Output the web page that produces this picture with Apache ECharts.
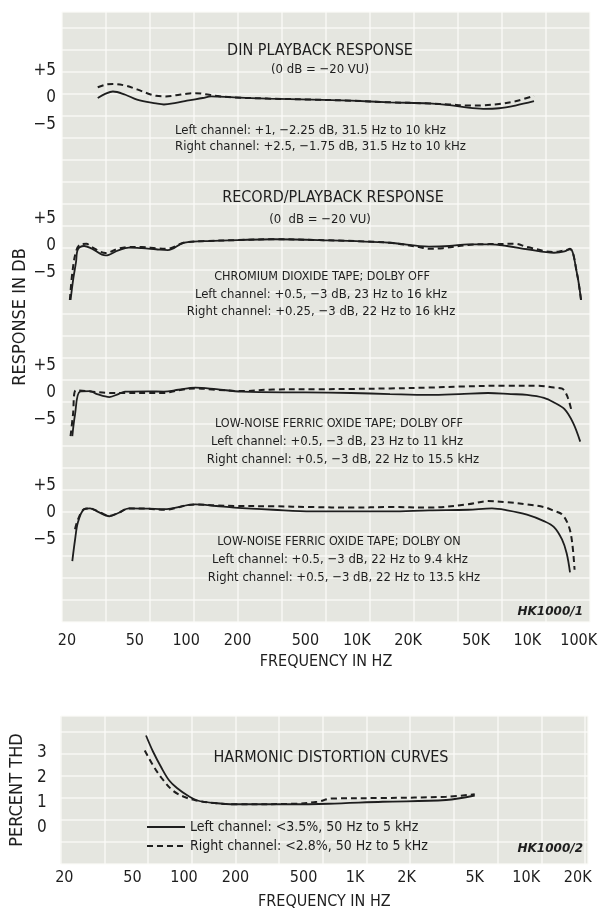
<!DOCTYPE html>
<html><head><meta charset="utf-8">
<script src="https://cdn.jsdelivr.net/npm/echarts@6/dist/echarts.min.js"></script>
<style>html,body{margin:0;padding:0;background:#fff}#c{width:606px;height:914px}</style>
</head><body><div id="c"></div>
<script>
const FONT = '"Liberation Sans Narrow","DejaVu Sans Condensed","Roboto",sans-serif';
const INK = '#1e1e1e';

// ---- tick labels ----
const respTickFreqs = [20, 50, 100, 200, 500, 1000, 2000, 5000, 10000, 20000];
const respTickLabels = ['20', '50', '100', '200', '500', '10K', '20K', '50K', '10K', '100K'];
const thdTickFreqs = [20, 50, 100, 200, 500, 1000, 2000, 5000, 10000, 20000];
const thdTickLabels = ['20', '50', '100', '200', '500', '1K', '2K', '5K', '10K', '20K'];
const dbTicks = [-5, 0, 5];
const dbTickLabels = ['−5', '0', '+5'];
const thdTicks = [0, 1, 2, 3];

// ---- DIN playback response [Hz, dB] ----
const dinLeft = [[30.3,0.0],[33.7,0.8],[37.2,1.2],[44,0.6],[51.5,-0.3],[66.5,-1.0],[74,-1.2],[87,-0.9],[101,-0.5],[125,0.0],[140,0.3],[191,0.1],[300,-0.1],[546,-0.3],[925,-0.5],[1565,-0.8],[2650,-1.0],[3500,-1.3],[4485,-1.8],[5500,-2.0],[6815,-1.9],[8500,-1.4],[10930,-0.6]];
const dinRight = [[30.3,2.0],[34,2.5],[37.2,2.6],[44,2.3],[51.5,1.6],[60,0.8],[66.5,0.4],[76,0.3],[87,0.5],[101,0.8],[113,0.9],[130,0.7],[150,0.4],[191,0.1],[300,-0.1],[546,-0.3],[925,-0.5],[1565,-0.8],[2650,-1.0],[3500,-1.2],[4485,-1.4],[5500,-1.35],[6815,-1.1],[8500,-0.6],[10930,0.4]];

// ---- Chromium dioxide, Dolby off ----
const crLeft = [[21.0,-10],[21.8,-6],[22.6,-3],[23.2,-0.6],[25.2,0.0],[28,-0.5],[33.7,-1.75],[40,-0.8],[46.2,-0.3],[55,-0.4],[66.5,-0.6],[78,-0.75],[96.4,0.6],[125,0.9],[200,1.1],[323,1.25],[600,1.1],[1565,0.6],[2650,-0.1],[3500,0.0],[4485,0.3],[6000,0.3],[7595,0.0],[10000,-0.6],[14320,-1.25],[16500,-1.0],[17770,-0.5],[19500,-5],[20620,-10]];
const crRight = [[20.8,-10],[21.5,-5],[22.6,-1],[24,0.3],[26,0.4],[28,-0.2],[33.7,-1.3],[40,-0.5],[46.2,-0.2],[55,-0.2],[66.5,-0.4],[78,-0.5],[96.4,0.6],[125,0.9],[200,1.1],[323,1.25],[600,1.1],[1565,0.6],[2300,-0.2],[2650,-0.5],[3200,-0.4],[4485,0.2],[6000,0.35],[8500,0.4],[10000,-0.2],[14320,-1.1],[16000,-0.9],[17770,-0.6],[19500,-5],[20620,-10]];

// ---- Low-noise ferric oxide, Dolby off ----
const fdLeft = [[21.5,-8],[22.3,-4],[23.8,0.25],[27.3,0.35],[30,-0.2],[35.5,-0.75],[40,-0.2],[43.8,0.25],[60,0.3],[74,0.25],[90,0.6],[113,1.0],[150,0.7],[212,0.25],[500,0.1],[925,0.0],[1565,-0.2],[2650,-0.35],[4000,-0.2],[5875,0.0],[8000,-0.2],[9945,-0.35],[12500,-0.9],[14320,-1.75],[16500,-3],[18500,-5.5],[20400,-9]];
const fdRight = [[21,-8],[21.7,-4],[22.6,0.5],[27.3,0.3],[35.5,0.0],[43.8,0.0],[60,0.0],[74,0.0],[90,0.5],[113,0.85],[150,0.6],[212,0.35],[323,0.65],[600,0.7],[925,0.75],[1565,0.85],[2650,1.0],[4000,1.2],[7595,1.35],[11540,1.35],[14320,1.0],[16000,0.8],[17200,-0.75],[18200,-3.5]];

// ---- Low-noise ferric oxide, Dolby on ----
const fnLeft = [[21.5,-8.9],[22.3,-5],[23.2,-1.7],[25.2,0.7],[27.3,0.85],[30,0.3],[35.5,-0.6],[40,0.0],[46.2,0.85],[60,0.8],[74,0.7],[113,1.6],[150,1.3],[191,1.0],[323,0.6],[546,0.3],[1565,0.3],[2650,0.5],[4485,0.6],[6200,0.85],[7595,0.5],[9945,-0.3],[12500,-1.5],[14320,-2.6],[15950,-4.9],[17000,-7.5],[17770,-11]];
const fnRight = [[22.3,-3],[23.2,-1.2],[25.2,0.7],[27.3,0.85],[30,0.4],[35.5,-0.5],[40,0.0],[46.2,0.85],[60,0.8],[74,0.6],[113,1.6],[150,1.4],[191,1.3],[323,1.25],[546,1.1],[925,1.0],[1565,1.1],[2650,1.0],[4485,1.6],[5875,2.2],[7595,2.0],[9945,1.6],[12500,1.1],[14320,0.4],[16000,-0.3],[17500,-2.5],[18300,-5.5],[18900,-10.5]];

// ---- Harmonic distortion [Hz, %] ----
const thdLeft = [[60,3.7],[66,3.05],[74,2.4],[82,1.9],[91,1.6],[105,1.3],[120,1.1],[150,1.0],[200,0.95],[400,0.95],[700,0.97],[1450,1.05],[3400,1.12],[5000,1.3]];
const thdRight = [[59,3.1],[66,2.5],[74,2.0],[86,1.5],[100,1.25],[118,1.1],[150,1.0],[200,0.95],[450,0.97],[600,1.05],[737,1.18],[1450,1.2],[3400,1.25],[5000,1.35]];

const thdLeftName = 'Left channel: <3.5%, 50 Hz to 5 kHz';
const thdRightName = 'Right channel: <2.8%, 50 Hz to 5 kHz';

const toPts = a => a.map(([f, v]) => [Math.log10(f), v]);
const lab = (freqs, labels) => v => {
  const i = freqs.findIndex(f => Math.abs(Math.log10(f) - v) < 1e-6);
  return i >= 0 ? labels[i] : '';
};

const PANEL_BG = '#e5e6e0';
const GRIDLINE = { show: true, lineStyle: { color: '#fbfbf8', width: 2, opacity: 0.6 } };
const RESP_MIN = 1.2720, RESP_MAX = 4.3669;
const THD_MIN = 1.2792, THD_MAX = 4.3610;
const zeroY = [98, 246, 393, 513];
const PXDB = 5.4, DBTOP = 8, DBBOT = -15;
const THD_TOP = 716, THD_H = 148, THD_MINV = -1.44, THD_MAXV = 4.48;

const grids = [
  { left: 62, top: 12, width: 528, height: 610, show: true, backgroundColor: PANEL_BG, borderWidth: 0 }
];
zeroY.forEach(z => grids.push({ left: 62, width: 528, top: z - DBTOP * PXDB, height: (DBTOP - DBBOT) * PXDB, show: false }));
grids.push({ left: 57, top: THD_TOP, width: 531, height: THD_H, show: true, backgroundColor: PANEL_BG, borderWidth: 0 });

const hidden = { axisLine: { show: false }, axisTick: { show: false }, axisLabel: { show: false }, splitLine: { show: false } };

const xAxes = [
  Object.assign({ type: 'value', gridIndex: 0, min: 0, max: 528, interval: 44, position: 'top' }, hidden, { splitLine: GRIDLINE }),
  Object.assign({ type: 'value', gridIndex: 0, min: RESP_MIN, max: RESP_MAX, position: 'bottom',
    name: 'FREQUENCY IN HZ', nameLocation: 'middle', nameGap: 32,
    nameTextStyle: { fontFamily: FONT, fontSize: 16, color: INK } }, hidden,
    { axisLabel: { show: true, customValues: respTickFreqs.map(Math.log10), formatter: lab(respTickFreqs, respTickLabels),
      margin: 11, fontFamily: FONT, fontSize: 16, color: INK } }),
];
zeroY.forEach((z, i) => xAxes.push(Object.assign({ type: 'value', gridIndex: i + 1, min: RESP_MIN, max: RESP_MAX }, hidden)));
xAxes.push(Object.assign({ type: 'value', gridIndex: 5, min: THD_MIN, max: THD_MAX, position: 'bottom',
  name: 'FREQUENCY IN HZ', nameLocation: 'middle', nameGap: 30,
  nameTextStyle: { fontFamily: FONT, fontSize: 16, color: INK } }, hidden,
  { axisLabel: { show: true, customValues: thdTickFreqs.map(Math.log10), formatter: lab(thdTickFreqs, thdTickLabels),
    margin: 6, fontFamily: FONT, fontSize: 16, color: INK } }));
xAxes.push(Object.assign({ type: 'value', gridIndex: 5, min: 0, max: 531, interval: 44, position: 'top' }, hidden, { splitLine: GRIDLINE }));

const yAxes = [
  Object.assign({ type: 'value', gridIndex: 0, min: 0, max: 610, interval: 22,
    name: 'RESPONSE IN DB', nameLocation: 'middle', nameGap: 33,
    nameTextStyle: { fontFamily: FONT, fontSize: 18, color: INK } }, hidden, { splitLine: GRIDLINE }),
];
zeroY.forEach((z, i) => yAxes.push(Object.assign({ type: 'value', gridIndex: i + 1, min: DBBOT, max: DBTOP }, hidden,
  { axisLabel: { show: true, customValues: dbTicks, formatter: v => dbTickLabels[dbTicks.indexOf(v)],
    margin: 6, fontFamily: FONT, fontSize: 17, color: INK } })));
yAxes.push(Object.assign({ type: 'value', gridIndex: 5, min: THD_MINV, max: THD_MAXV,
  name: 'PERCENT THD', nameLocation: 'middle', nameGap: 27,
  nameTextStyle: { fontFamily: FONT, fontSize: 18, color: INK } }, hidden,
  { axisLabel: { show: true, customValues: thdTicks, formatter: v => String(v),
    margin: 14, fontFamily: FONT, fontSize: 17, color: INK } }));
yAxes.push(Object.assign({ type: 'value', gridIndex: 5, min: 0, max: THD_H, interval: 22, position: 'right' }, hidden, { splitLine: GRIDLINE }));

const mk = (name, data, xi, yi, dashed) => ({
  name, type: 'line', xAxisIndex: xi, yAxisIndex: yi, data: toPts(data),
  smooth: 0.35, symbol: 'none', silent: true, clip: false,
  itemStyle: { color: INK },
  lineStyle: { color: INK, width: dashed ? 2 : 1.8, type: dashed ? [6, 4] : 'solid' },
  z: dashed ? 3 : 4
});

const series = [
  mk('DIN left', dinLeft, 2, 1, false), mk('DIN right', dinRight, 2, 1, true),
  mk('CrO2 left', crLeft, 3, 2, false), mk('CrO2 right', crRight, 3, 2, true),
  mk('Fe off left', fdLeft, 4, 3, false), mk('Fe off right', fdRight, 4, 3, true),
  mk('Fe on left', fnLeft, 5, 4, false), mk('Fe on right', fnRight, 5, 4, true),
  mk(thdLeftName, thdLeft, 6, 5, false), mk(thdRightName, thdRight, 6, 5, true),
];

const T = (text, x, y, size, opts) => ({ type: 'text', x, y, z: 100, silent: true,
  style: Object.assign({ text, fill: INK, font: size + 'px ' + FONT, align: 'center', verticalAlign: 'middle' }, opts || {}) });

const graphic = [
  T('DIN PLAYBACK RESPONSE', 320, 51, 16),
  T('(0 dB = −20 VU)', 320, 70, 13),
  T('Left channel: +1, −2.25 dB, 31.5 Hz to 10 kHz', 175, 131, 13, { align: 'left' }),
  T('Right channel: +2.5, −1.75 dB, 31.5 Hz to 10 kHz', 175, 147, 13, { align: 'left' }),
  T('RECORD/PLAYBACK RESPONSE', 333, 198, 16),
  T('(0  dB = −20 VU)', 320, 220, 13),
  T('CHROMIUM DIOXIDE TAPE; DOLBY OFF', 322, 277, 12.5),
  T('Left channel: +0.5, −3 dB, 23 Hz to 16 kHz', 321, 295, 13),
  T('Right channel: +0.25, −3 dB, 22 Hz to 16 kHz', 321, 312, 13),
  T('LOW-NOISE FERRIC OXIDE TAPE; DOLBY OFF', 339, 424, 12.5),
  T('Left channel: +0.5, −3 dB, 23 Hz to 11 kHz', 337, 442, 13),
  T('Right channel: +0.5, −3 dB, 22 Hz to 15.5 kHz', 343, 460, 13),
  T('LOW-NOISE FERRIC OXIDE TAPE; DOLBY ON', 339, 542, 12.5),
  T('Left channel: +0.5, −3 dB, 22 Hz to 9.4 kHz', 340, 560, 13),
  T('Right channel: +0.5, −3 dB, 22 Hz to 13.5 kHz', 344, 578, 13),
  T('HK1000/1', 583, 612, 12, { align: 'right', font: 'italic bold 12px "DejaVu Sans", sans-serif' }),
  T('HARMONIC DISTORTION CURVES', 331, 758, 16),
  T('HK1000/2', 583, 849, 12, { align: 'right', font: 'italic bold 12px "DejaVu Sans", sans-serif' }),
];

const chart = echarts.init(document.getElementById('c'), null, { renderer: 'canvas' });
chart.setOption({
  animation: false,
  backgroundColor: '#ffffff',
  grid: grids, xAxis: xAxes, yAxis: yAxes, series, graphic,
  legend: {
    data: [thdLeftName, thdRightName], orient: 'vertical', left: 146, top: 820, z: 100,
    itemWidth: 38, itemHeight: 12, itemGap: 5, padding: 0, selectedMode: false,
    itemStyle: { opacity: 0 },
    textStyle: { fontFamily: FONT, fontSize: 14, color: INK }
  }
});
</script></body></html>
